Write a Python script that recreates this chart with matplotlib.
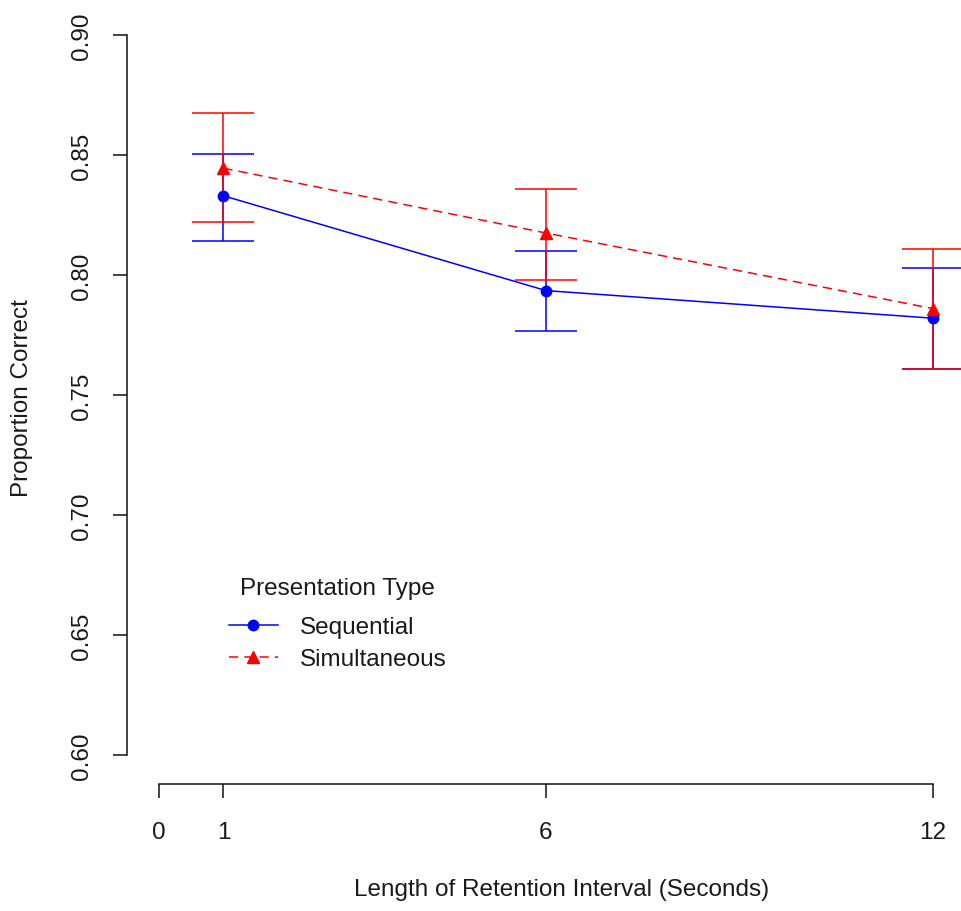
import matplotlib
matplotlib.use("Agg")
import matplotlib.pyplot as plt
import numpy as np

# ---- data ----
intervals = [1, 6, 12]
seq_mean = [0.833, 0.7935, 0.782]
seq_lo = [0.814, 0.7765, 0.761]
seq_hi = [0.8505, 0.810, 0.8028]
sim_mean = [0.8445, 0.8175, 0.786]
sim_lo = [0.822, 0.798, 0.761]
sim_hi = [0.8675, 0.836, 0.8107]
x_ticks = [0, 1, 6, 12]
y_ticks = [0.60, 0.65, 0.70, 0.75, 0.80, 0.85, 0.90]
series_names = ["Sequential", "Simultaneous"]
legend_title = "Presentation Type"
x_label = "Length of Retention Interval (Seconds)"
y_label = "Proportion Correct"

plt.rcParams['font.family'] = ['Liberation Sans', 'DejaVu Sans']

W, H = 961, 912
fig = plt.figure(figsize=(W / 100, H / 100), dpi=100)
ax = fig.add_axes([0, 0, 1, 1])
ax.patch.set_alpha(0)

# pixel mapping
px_x0, px_per_x = 159.0, 64.5
px_y90, px_per_y = 36.0, 2400.0
ax.set_xlim(-px_x0 / px_per_x, (W - px_x0) / px_per_x)
ax.set_ylim(0.90 - (H - px_y90) / px_per_y, 0.90 + px_y90 / px_per_y)

blue = "#0000FF"
red = "#FF0000"
txt = '#1a1a1a'
fs = 17.5

def err(mean, lo, hi):
    m = np.array(mean); return [m - np.array(lo), np.array(hi) - m]

ax.errorbar(intervals, seq_mean, yerr=err(seq_mean, seq_lo, seq_hi), fmt='none',
            ecolor=blue, elinewidth=1.1, capsize=22.3, capthick=1.1, zorder=2)
ax.errorbar(intervals, sim_mean, yerr=err(sim_mean, sim_lo, sim_hi), fmt='none',
            ecolor=red, elinewidth=1.1, capsize=22.3, capthick=1.1, zorder=3)
ax.plot(intervals, seq_mean, color=blue, lw=1.1, marker='o', ms=7.5,
        label=series_names[0], zorder=4)
ax.plot(intervals, sim_mean, color=red, lw=1.1, marker='^', ms=8.5,
        dashes=(6, 4), label=series_names[1], zorder=5)

# axes styling (R base look)
for s in ['top', 'right']:
    ax.spines[s].set_visible(False)
ax.spines['left'].set_position(('data', (127 - px_x0) / px_per_x))
ax.spines['left'].set_bounds(0.60, 0.90)
ax.spines['bottom'].set_position(('data', 0.90 - (785 - px_y90) / px_per_y))
ax.spines['bottom'].set_bounds(0, 12)
for s in ['left', 'bottom']:
    ax.spines[s].set_linewidth(1.1)
    ax.spines[s].set_color('#111111')

ax.set_xticks(x_ticks)
ax.set_xticklabels([str(v) for v in x_ticks])
ax.set_yticks(y_ticks)
ax.set_yticklabels([f"{v:.2f}" for v in y_ticks])
ax.tick_params(axis='both', direction='out', length=10, width=1.1,
               color='#111111', labelsize=fs, labelcolor=txt)
ax.tick_params(axis='x', pad=17)
ax.tick_params(axis='y', pad=14.5, labelrotation=90)
for t in ax.get_yticklabels():
    t.set_va('center')

ax.set_xlabel(x_label, fontsize=fs, color=txt)
ax.xaxis.label.set_va('center')
ax.xaxis.set_label_coords(562 / W, (H - 890) / H)
ax.set_ylabel(y_label, fontsize=fs, color=txt)
ax.yaxis.label.set_va('center')
ax.yaxis.set_label_coords(22 / W, (H - 398) / H)

leg = ax.legend(title=legend_title, loc='upper left',
                bbox_to_anchor=(229 / W, (H - 578) / H),
                frameon=False, fontsize=fs, title_fontsize=fs,
                handlelength=2.0, handletextpad=0.9, labelspacing=0.40,
                borderpad=0, borderaxespad=0, numpoints=1)
leg._legend_box.sep = 12.5
leg.get_title().set_color(txt)
for t in leg.get_texts():
    t.set_color(txt)

fig.savefig("out.png", dpi=100, facecolor='white')
